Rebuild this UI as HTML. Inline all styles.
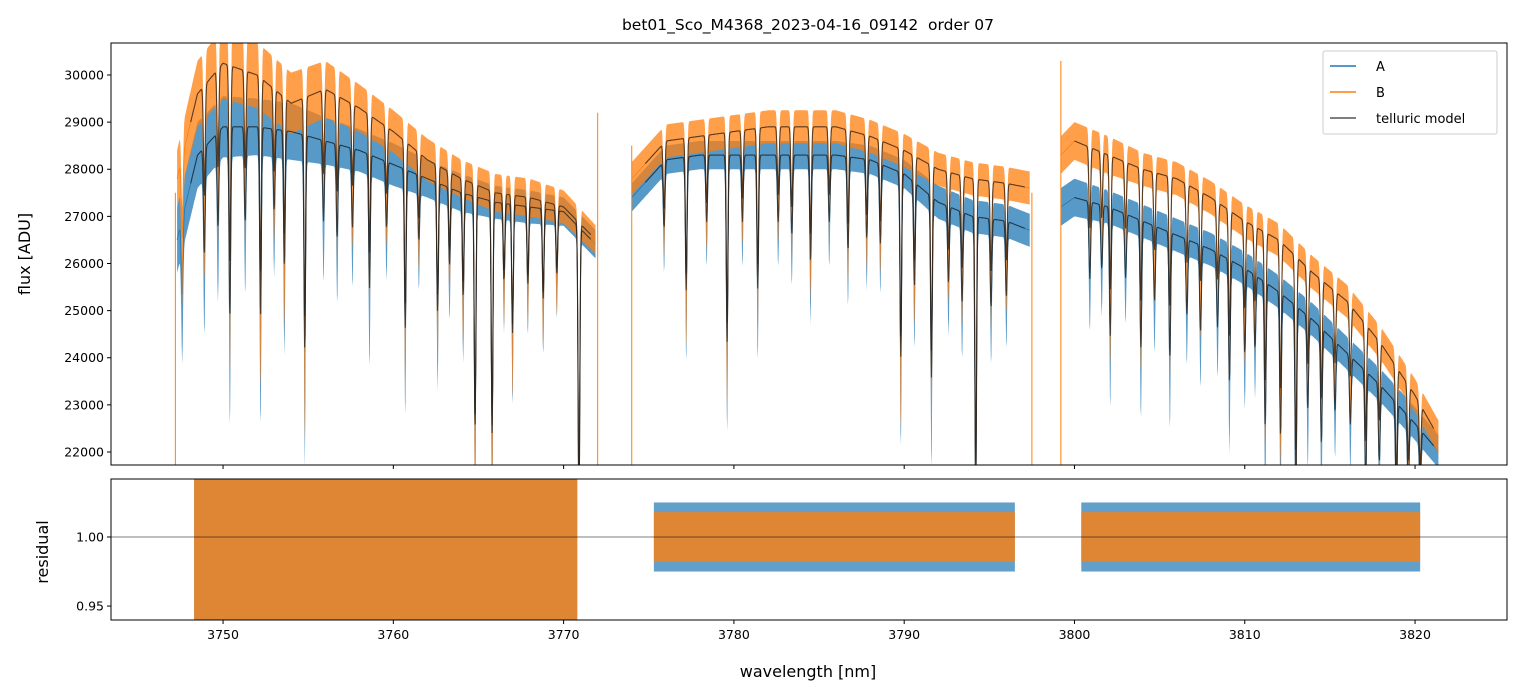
<!DOCTYPE html>
<html><head><meta charset="utf-8">
<style>
html,body{margin:0;padding:0;background:#fff;}
svg{display:block;font-family:"DejaVu Sans","Liberation Sans",sans-serif;}
</style></head>
<body>
<svg id="chart" width="1520" height="696" viewBox="0 0 1520 696" xmlns="http://www.w3.org/2000/svg">
<rect width="1520" height="696" fill="#fff"/>
<text x="808" y="30" text-anchor="middle" font-size="15.5" style="white-space:pre">bet01_Sco_M4368_2023-04-16_09142  order 07</text>
<defs>
<clipPath id="clipTop"><rect x="111" y="43" width="1396" height="422"/></clipPath>
<clipPath id="clipBot"><rect x="111" y="479" width="1396" height="141"/></clipPath>
</defs>
<g id="topPlot" clip-path="url(#clipTop)"></g>
<g id="botPlot" clip-path="url(#clipBot)"></g>
<g id="axes"></g>
<rect x="111" y="43" width="1396" height="422" fill="none" stroke="#000" stroke-width="1"/>
<rect x="111" y="479" width="1396" height="141" fill="none" stroke="#000" stroke-width="1"/>
<text transform="translate(30,254) rotate(-90)" text-anchor="middle" font-size="16">flux [ADU]</text>
<text transform="translate(48,552) rotate(-90)" text-anchor="middle" font-size="16">residual</text>
<text x="808" y="677" text-anchor="middle" font-size="16">wavelength [nm]</text>
<g>
<rect x="1323" y="51" width="174" height="83" fill="#fff" fill-opacity="0.85" stroke="#ccc" rx="2"/>
<line x1="1330" y1="66" x2="1356" y2="66" stroke="#1f77b4" stroke-width="1.5"/>
<text x="1376" y="71" font-size="13">A</text>
<line x1="1330" y1="92" x2="1356" y2="92" stroke="#ff7f0e" stroke-width="1.5"/>
<text x="1376" y="97" font-size="13">B</text>
<line x1="1330" y1="118" x2="1356" y2="118" stroke="#555" stroke-width="1.5"/>
<text x="1376" y="123" font-size="13">telluric model</text>
</g>
</svg>
<script>
// ---- data ----
const segments = [[3747.3, 3771.9], [3774.0, 3797.4], [3799.2, 3821.4]];
const nodesWl = [3747.3,3748.5,3750,3752,3754,3756,3758,3760,3762,3764,3766,3768,3770,3771.9,
                 3774.0,3776,3778,3780,3782,3784,3786,3788,3790,3792,3794,3796,3797.4,
                 3799.2,3800,3802,3804,3806,3808,3810,3812,3814,3816,3818,3820,3821.4];
const modelB = [27800,29600,30250,30000,29400,29700,29300,28800,28200,27800,27500,27400,27200,26500,
                27800,28600,28700,28800,28900,28900,28900,28700,28400,28000,27800,27700,27600,
                28300,28600,28300,28000,27800,27400,26900,26500,25800,25200,24300,23200,22300];
const modelA = [26500,28300,28900,28900,28800,28600,28400,28100,27800,27500,27300,27200,27100,26400,
                27400,28200,28300,28300,28300,28300,28300,28200,27900,27300,27000,26900,26700,
                27200,27400,27200,26900,26600,26300,25900,25400,24800,24100,23400,22600,22000];
const noiseB = [600,700,750,700,650,600,500,450,450,400,400,400,350,300,
                350,350,350,350,350,350,350,350,350,350,350,350,350,
                400,400,400,350,350,350,350,350,350,350,350,350,350];
const noiseA = [700,700,650,600,600,500,450,450,400,400,350,350,300,300,
                300,300,300,300,300,300,300,300,300,350,350,350,350,
                400,400,350,350,350,350,350,350,350,350,350,350,350];
const lineWl = [3747.6,3748.9,3749.7,3750.4,3751.3,3752.2,3753.0,3753.6,3754.8,3755.9,3756.7,3757.6,3758.6,3759.6,3760.7,3761.5,3762.6,3763.3,3764.1,3764.8,3765.8,3766.5,3767.0,3767.9,3768.8,3769.6,3770.9,
                3775.9,3777.2,3778.4,3779.6,3780.5,3781.4,3782.6,3783.4,3784.5,3785.6,3786.7,3787.8,3788.6,3789.8,3790.6,3791.6,3792.6,3793.4,3794.2,3795.1,3796.0,
                3800.9,3801.6,3802.1,3803.0,3803.9,3804.7,3805.6,3806.6,3807.4,3808.4,3809.1,3810.0,3810.6,3811.2,3812.1,3813.0,3813.7,3814.5,3815.3,3816.2,3817.1,3817.9,3818.9,3819.6,3820.3];
const lineDepth = [0.06,0.08,0.07,0.14,0.07,0.14,0.06,0.10,0.16,0.06,0.07,0.06,0.10,0.05,0.12,0.05,0.10,0.06,0.08,0.18,0.18,0.06,0.10,0.06,0.07,0.05,0.22,
                   0.05,0.10,0.05,0.14,0.05,0.10,0.05,0.06,0.08,0.05,0.07,0.06,0.06,0.14,0.08,0.14,0.06,0.07,0.22,0.07,0.06,
                   0.06,0.05,0.10,0.05,0.10,0.06,0.10,0.06,0.07,0.06,0.10,0.07,0.06,0.12,0.12,0.16,0.08,0.10,0.06,0.06,0.10,0.07,0.10,0.07,0.06];
const residSeg = [[3748.3, 3770.8], [3775.3, 3796.5], [3800.4, 3820.3]];
const residAmpA = [0.06, 0.025, 0.025];
const residAmpB = [0.06, 0.018, 0.018];
const yTicksTop = [22000,23000,24000,25000,26000,27000,28000,29000,30000];
const yTicksBot = [0.95, 1.00];
const xTicks = [3750,3760,3770,3780,3790,3800,3810,3820];
const edgeWl = [3747.2, 3772.0, 3774.0, 3797.5, 3799.2];
const edgeTop = [27500, 29200, 28500, 27500, 30300];

// ---- axes ----
const X0=111, X1=1507, XMIN=3743.42, XMAX=3825.4;
const TY0=43, TY1=465, TYMIN=21724, TYMAX=30679;
const BY0=479, BY1=620, BYMIN=0.9399, BYMAX=1.042;
const sx = w => X0 + (w-XMIN)/(XMAX-XMIN)*(X1-X0);
const syT = v => TY1 - (v-TYMIN)/(TYMAX-TYMIN)*(TY1-TY0);
const syB = v => BY1 - (v-BYMIN)/(BYMAX-BYMIN)*(BY1-BY0);
const NS="http://www.w3.org/2000/svg";
function mk(tag, attrs, parent){const e=document.createElementNS(NS,tag);for(const k in attrs)e.setAttribute(k,attrs[k]);parent.appendChild(e);return e;}
function interp(arr, w){
  for(let i=0;i<nodesWl.length-1;i++){
    if(w>=nodesWl[i]&&w<=nodesWl[i+1]){const t=(w-nodesWl[i])/(nodesWl[i+1]-nodesWl[i]);return arr[i]*(1-t)+arr[i+1]*t;}
  }
  return arr[arr.length-1];
}
function absorb(w){let f=1;for(let i=0;i<lineWl.length;i++){const d=(w-lineWl[i])/0.07;f*=1-lineDepth[i]*Math.exp(-d*d);}return f;}

const topG=document.getElementById('topPlot'), botG=document.getElementById('botPlot'), axG=document.getElementById('axes');
function band(series, noise, color, opacity, name){
  segments.forEach(([a,b],si)=>{
    let up=[],lo=[],mid=[];
    for(let w=a;w<=b;w+=0.03){
      const c=interp(series,w), ab=absorb(w), n=interp(noise,w);
      const v=c*ab;
      up.push(sx(w).toFixed(1)+','+syT(v+n).toFixed(1));
      lo.push(sx(w).toFixed(1)+','+syT(v*(1-(1-ab)*0.5)-n).toFixed(1));
      mid.push(sx(w).toFixed(1)+','+syT(v).toFixed(1));
    }
    const p=mk('polygon',{points:up.concat(lo.reverse()).join(' '),fill:color,'fill-opacity':opacity},topG);
    
    
    const l=mk('polyline',{points:mid.join(' '),fill:'none',stroke:color,'stroke-width':0.8},topG);
    
    
  });
}
band(modelA, noiseA, '#1f77b4', 0.75, 'series-a');
band(modelB, noiseB, '#ff7f0e', 0.75, 'series-b');
edgeWl.forEach((w,i)=>{
  const s=mk('line',{x1:sx(w),x2:sx(w),y1:syT(21700),y2:syT(edgeTop[i]),stroke:'#ff7f0e','stroke-width':1},topG);
  
  
});
function modelLine(series,name){
  segments.forEach(([a,b],si)=>{
    let pts=[];
    for(let w=a+0.8;w<=b-0.3;w+=0.03){pts.push(sx(w).toFixed(1)+','+syT(interp(series,w)*absorb(w)).toFixed(1));}
    const l=mk('polyline',{points:pts.join(' '),fill:'none',stroke:'#222','stroke-opacity':0.75,'stroke-width':1.1},topG);
    
    
  });
}
modelLine(modelB,'telluric-model-b');
modelLine(modelA,'telluric-model-a');

// residuals
[[residAmpA,'#1f77b4','residual-a',0.7],[residAmpB,'#ff7f0e','residual-b',0.8]].forEach(([amp,col,name,op])=>{
  residSeg.forEach(([a,b],i)=>{
    const r=mk('rect',{x:sx(a),y:syB(1+amp[i]),width:sx(b)-sx(a),height:syB(1-amp[i])-syB(1+amp[i]),fill:col,'fill-opacity':op},botG);
    
    
  });
});
const rl=mk('line',{x1:X0,x2:X1,y1:syB(1),y2:syB(1),stroke:'#000','stroke-width':0.6},botG);



// ticks
yTicksTop.forEach(v=>{
  const y=syT(v);
  mk('line',{x1:X0-4,x2:X0,y1:y,y2:y,stroke:'#000'},axG);
  const t=mk('text',{x:X0-7,y:y+4.5,'text-anchor':'end','font-size':12.5},axG);t.textContent=v;
  
  
});
yTicksBot.forEach(v=>{
  const y=syB(v);
  mk('line',{x1:X0-4,x2:X0,y1:y,y2:y,stroke:'#000'},axG);
  const t=mk('text',{x:X0-7,y:y+4.5,'text-anchor':'end','font-size':12.5},axG);t.textContent=v.toFixed(2);
  
  
});
xTicks.forEach(v=>{
  const x=sx(v);
  mk('line',{x1:x,x2:x,y1:TY1,y2:TY1+4,stroke:'#000'},axG);
  mk('line',{x1:x,x2:x,y1:BY1,y2:BY1+4,stroke:'#000'},axG);
  const t=mk('text',{x:x,y:BY1+19,'text-anchor':'middle','font-size':12.5},axG);t.textContent=v;
  
  
});
</script>
</body></html>
